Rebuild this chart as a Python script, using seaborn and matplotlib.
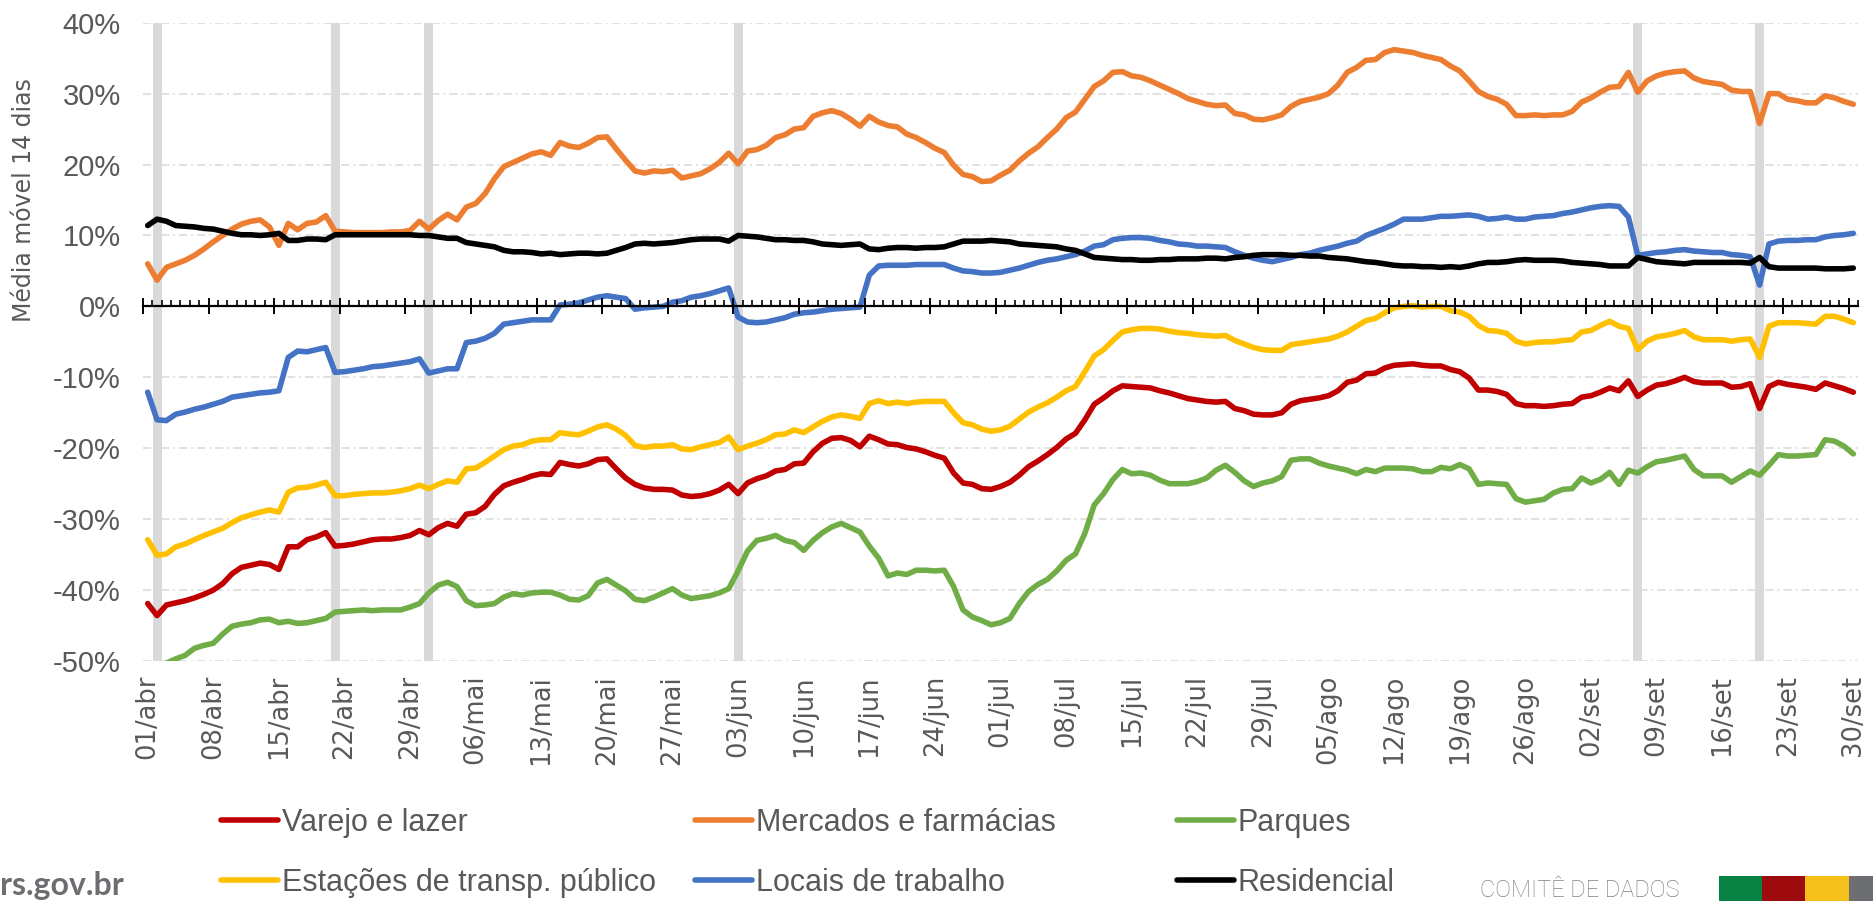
import numpy as np
import pandas as pd
import matplotlib
matplotlib.use('Agg')
import matplotlib.pyplot as plt
import seaborn as sns
from matplotlib.patches import Rectangle

# Média móvel de 14 dias, variação (%) frente à linha de base - 01/abr a 30/set
dias = pd.date_range('2021-04-01', '2021-09-30', freq='D')
feriados = ['2021-04-02', '2021-04-21', '2021-05-01', '2021-06-03', '2021-09-07', '2021-09-20']

varejo = [
    -41.9, -43.6, -42.1, -41.8, -41.5, -41.1, -40.6, -40.0, -39.1, -37.7,
    -36.8, -36.5, -36.2, -36.4, -37.1, -33.9, -33.9, -32.9, -32.5, -31.9,
    -33.8, -33.7, -33.5, -33.2, -32.9, -32.8, -32.8, -32.6, -32.3, -31.6,
    -32.2, -31.2, -30.6, -31.0, -29.3, -29.1, -28.2, -26.5, -25.3, -24.8,
    -24.4, -23.9, -23.6, -23.7, -22.0, -22.3, -22.5, -22.2, -21.6, -21.5,
    -22.9, -24.2, -25.1, -25.6, -25.8, -25.8, -25.9, -26.6, -26.8, -26.7,
    -26.4, -25.9, -25.1, -26.4, -24.9, -24.3, -23.9, -23.2, -23.0, -22.2,
    -22.1, -20.5, -19.3, -18.6, -18.5, -18.9, -19.8, -18.3, -18.8, -19.4,
    -19.5, -19.9, -20.1, -20.5, -21.0, -21.4, -23.5, -24.9, -25.1, -25.7,
    -25.8, -25.4, -24.8, -23.8, -22.6, -21.8, -20.9, -19.9, -18.7, -17.9,
    -16.0, -13.8, -12.9, -11.9, -11.2, -11.3, -11.4, -11.5, -11.9, -12.2,
    -12.6, -13.0, -13.2, -13.4, -13.5, -13.4, -14.4, -14.7, -15.2, -15.3,
    -15.3, -15.0, -13.8, -13.3, -13.1, -12.9, -12.6, -11.9, -10.7, -10.4,
    -9.5, -9.4, -8.7, -8.3, -8.2, -8.1, -8.3, -8.4, -8.4, -8.9,
    -9.2, -10.1, -11.8, -11.8, -12.0, -12.4, -13.7, -14.0, -14.0, -14.1,
    -14.0, -13.8, -13.7, -12.8, -12.6, -12.1, -11.5, -11.9, -10.5, -12.7,
    -11.8, -11.1, -10.9, -10.5, -10.0, -10.6, -10.8, -10.8, -10.8, -11.4,
    -11.3, -10.9, -14.4, -11.3, -10.7, -11.0, -11.2, -11.4, -11.7, -10.8,
    -11.2, -11.6, -12.1,
]

mercados = [
    6.0, 3.7, 5.5, 6.0, 6.5, 7.2, 8.1, 9.1, 10.0, 10.9,
    11.6, 12.0, 12.2, 11.2, 8.6, 11.7, 10.8, 11.7, 11.9, 12.8,
    10.6, 10.5, 10.4, 10.4, 10.4, 10.4, 10.5, 10.5, 10.7, 12.0,
    10.9, 12.1, 13.0, 12.2, 14.0, 14.5, 15.9, 18.0, 19.7, 20.3,
    20.9, 21.5, 21.8, 21.3, 23.1, 22.6, 22.4, 23.0, 23.8, 23.9,
    22.2, 20.6, 19.1, 18.8, 19.1, 19.0, 19.2, 18.1, 18.4, 18.7,
    19.4, 20.3, 21.6, 20.1, 21.9, 22.1, 22.7, 23.8, 24.2, 25.0,
    25.2, 26.8, 27.3, 27.6, 27.2, 26.4, 25.4, 26.8, 26.0, 25.5,
    25.3, 24.3, 23.8, 23.1, 22.3, 21.7, 19.9, 18.6, 18.3, 17.6,
    17.7, 18.5, 19.2, 20.5, 21.6, 22.5, 23.8, 25.0, 26.6, 27.4,
    29.2, 31.0, 31.8, 33.0, 33.1, 32.5, 32.3, 31.8, 31.2, 30.6,
    30.0, 29.3, 28.9, 28.5, 28.3, 28.4, 27.2, 27.0, 26.4, 26.3,
    26.6, 27.0, 28.2, 28.9, 29.2, 29.5, 30.0, 31.2, 33.0, 33.7,
    34.7, 34.8, 35.8, 36.2, 36.0, 35.8, 35.4, 35.1, 34.8, 33.9,
    33.2, 31.8, 30.3, 29.6, 29.2, 28.5, 26.9, 26.9, 27.0, 26.9,
    27.0, 27.0, 27.5, 28.8, 29.4, 30.2, 30.9, 31.0, 33.0, 30.2,
    31.8, 32.5, 32.9, 33.1, 33.2, 32.2, 31.7, 31.5, 31.3, 30.5,
    30.3, 30.3, 25.8, 30.0, 30.0, 29.2, 29.0, 28.7, 28.7, 29.7,
    29.4, 28.9, 28.5,
]

parques = [
    -52.0, -52.5, -50.3, -49.7, -49.2, -48.2, -47.8, -47.5, -46.2, -45.1,
    -44.8, -44.6, -44.2, -44.1, -44.6, -44.4, -44.7, -44.6, -44.3, -44.0,
    -43.1, -43.0, -42.9, -42.8, -42.9, -42.8, -42.8, -42.8, -42.4, -41.9,
    -40.4, -39.3, -38.9, -39.5, -41.5, -42.2, -42.1, -41.9, -41.0, -40.5,
    -40.7, -40.4, -40.3, -40.3, -40.7, -41.3, -41.4, -40.8, -39.0, -38.5,
    -39.3, -40.1, -41.3, -41.5, -41.0, -40.4, -39.8, -40.7, -41.2, -41.0,
    -40.8, -40.4, -39.8, -37.3, -34.5, -33.0, -32.7, -32.3, -33.0, -33.3,
    -34.4, -33.0, -31.9, -31.1, -30.6, -31.2, -31.8, -33.8, -35.5, -38.0,
    -37.6, -37.8, -37.2, -37.2, -37.3, -37.2, -39.5, -42.8, -43.8, -44.3,
    -44.9, -44.6, -44.0, -41.9, -40.2, -39.2, -38.5, -37.3, -35.8, -34.9,
    -32.0, -28.0, -26.4, -24.4, -23.0, -23.6, -23.5, -23.8, -24.5, -25.0,
    -25.0, -25.0, -24.7, -24.2, -23.1, -22.4, -23.4, -24.6, -25.4, -24.9,
    -24.6, -24.0, -21.7, -21.5, -21.5, -22.1, -22.5, -22.8, -23.1, -23.6,
    -23.0, -23.3, -22.8, -22.8, -22.8, -22.9, -23.3, -23.3, -22.7, -22.9,
    -22.3, -22.9, -25.1, -24.9, -25.0, -25.1, -27.1, -27.6, -27.4, -27.2,
    -26.3, -25.8, -25.7, -24.2, -24.9, -24.4, -23.4, -25.1, -23.1, -23.5,
    -22.6, -21.9, -21.7, -21.4, -21.1, -23.0, -23.9, -23.9, -23.9, -24.8,
    -24.0, -23.2, -23.8, -22.4, -20.9, -21.1, -21.1, -21.0, -20.9, -18.8,
    -19.0, -19.7, -20.8,
]

estacoes = [
    -32.9, -35.1, -34.9, -33.9, -33.5, -32.9, -32.3, -31.8, -31.3, -30.5,
    -29.8, -29.4, -29.0, -28.7, -29.0, -26.2, -25.6, -25.5, -25.2, -24.8,
    -26.7, -26.7, -26.5, -26.4, -26.3, -26.3, -26.2, -26.0, -25.7, -25.2,
    -25.7, -25.1, -24.6, -24.8, -22.9, -22.8, -22.0, -21.1, -20.2, -19.7,
    -19.5, -19.0, -18.8, -18.8, -17.8, -18.0, -18.1, -17.6, -17.0, -16.7,
    -17.3, -18.2, -19.6, -19.9, -19.7, -19.7, -19.5, -20.1, -20.2, -19.8,
    -19.5, -19.2, -18.4, -20.2, -19.7, -19.3, -18.8, -18.1, -18.0, -17.4,
    -17.8, -17.0, -16.2, -15.6, -15.3, -15.5, -15.8, -13.7, -13.3, -13.7,
    -13.5, -13.7, -13.5, -13.4, -13.4, -13.4, -15.0, -16.4, -16.7, -17.3,
    -17.6, -17.4, -16.9, -15.9, -14.9, -14.2, -13.6, -12.8, -11.9, -11.3,
    -9.2, -7.0, -6.1, -4.8, -3.6, -3.3, -3.1, -3.1, -3.2, -3.5,
    -3.7, -3.8, -4.0, -4.1, -4.2, -4.1, -4.8, -5.3, -5.8, -6.1,
    -6.2, -6.2, -5.4, -5.2, -5.0, -4.8, -4.6, -4.2, -3.6, -2.8,
    -2.0, -1.7, -0.9, -0.2, 0.0, 0.1, -0.1, 0.0, 0.0, -0.6,
    -0.8, -1.4, -2.7, -3.4, -3.5, -3.8, -4.9, -5.3, -5.1, -5.0,
    -5.0, -4.8, -4.7, -3.6, -3.4, -2.7, -2.1, -2.8, -3.1, -6.1,
    -4.9, -4.3, -4.1, -3.8, -3.4, -4.3, -4.7, -4.7, -4.7, -4.9,
    -4.7, -4.6, -7.2, -2.8, -2.3, -2.3, -2.3, -2.4, -2.5, -1.4,
    -1.4, -1.8, -2.3,
]

trabalho = [
    -12.1, -16.0, -16.1, -15.2, -14.9, -14.5, -14.2, -13.8, -13.4, -12.8,
    -12.6, -12.4, -12.2, -12.1, -11.9, -7.2, -6.3, -6.4, -6.1, -5.8,
    -9.3, -9.2, -9.0, -8.8, -8.5, -8.4, -8.2, -8.0, -7.8, -7.4,
    -9.4, -9.1, -8.8, -8.8, -5.1, -4.9, -4.5, -3.8, -2.5, -2.3,
    -2.1, -1.9, -1.9, -1.9, 0.2, 0.3, 0.5, 0.9, 1.3, 1.5,
    1.3, 1.1, -0.4, -0.2, -0.1, 0.0, 0.6, 0.8, 1.3, 1.5,
    1.8, 2.2, 2.6, -1.5, -2.2, -2.3, -2.2, -1.9, -1.6, -1.1,
    -0.9, -0.8, -0.6, -0.4, -0.3, -0.2, -0.1, 4.4, 5.7, 5.8,
    5.8, 5.8, 5.9, 5.9, 5.9, 5.9, 5.4, 5.0, 4.9, 4.7,
    4.7, 4.8, 5.1, 5.4, 5.8, 6.2, 6.5, 6.7, 7.0, 7.3,
    7.8, 8.5, 8.7, 9.4, 9.6, 9.7, 9.7, 9.6, 9.3, 9.1,
    8.8, 8.7, 8.5, 8.5, 8.4, 8.3, 7.7, 7.2, 6.8, 6.5,
    6.3, 6.6, 6.9, 7.3, 7.5, 7.9, 8.2, 8.5, 8.9, 9.2,
    10.0, 10.5, 11.0, 11.6, 12.3, 12.3, 12.3, 12.5, 12.7, 12.7,
    12.8, 12.9, 12.7, 12.3, 12.4, 12.6, 12.3, 12.3, 12.6, 12.7,
    12.8, 13.1, 13.3, 13.6, 13.9, 14.1, 14.2, 14.1, 12.6, 7.2,
    7.4, 7.6, 7.7, 7.9, 8.0, 7.8, 7.7, 7.6, 7.6, 7.3,
    7.2, 7.0, 3.0, 8.8, 9.2, 9.3, 9.3, 9.4, 9.4, 9.8,
    10.0, 10.1, 10.3,
]

residencial = [
    11.4, 12.3, 12.0, 11.4, 11.3, 11.2, 11.0, 10.9, 10.6, 10.3,
    10.1, 10.1, 10.0, 10.1, 10.3, 9.3, 9.3, 9.5, 9.5, 9.4,
    10.1, 10.1, 10.1, 10.1, 10.1, 10.1, 10.1, 10.1, 10.1, 10.0,
    10.0, 9.8, 9.6, 9.6, 9.0, 8.8, 8.6, 8.4, 7.9, 7.7,
    7.7, 7.6, 7.4, 7.5, 7.3, 7.4, 7.5, 7.5, 7.4, 7.5,
    7.9, 8.3, 8.8, 8.9, 8.8, 8.9, 9.0, 9.2, 9.4, 9.5,
    9.5, 9.5, 9.2, 10.0, 9.9, 9.8, 9.6, 9.4, 9.4, 9.3,
    9.3, 9.1, 8.8, 8.7, 8.6, 8.7, 8.8, 8.1, 8.0, 8.2,
    8.3, 8.3, 8.2, 8.3, 8.3, 8.4, 8.8, 9.2, 9.2, 9.2,
    9.3, 9.2, 9.1, 8.8, 8.7, 8.6, 8.5, 8.4, 8.1, 7.9,
    7.4, 6.9, 6.8, 6.7, 6.6, 6.6, 6.5, 6.5, 6.6, 6.6,
    6.7, 6.7, 6.7, 6.8, 6.8, 6.7, 6.9, 7.0, 7.2, 7.3,
    7.3, 7.3, 7.2, 7.2, 7.1, 7.1, 6.9, 6.8, 6.7, 6.5,
    6.3, 6.2, 6.0, 5.8, 5.7, 5.7, 5.6, 5.6, 5.5, 5.6,
    5.5, 5.7, 6.0, 6.2, 6.2, 6.3, 6.5, 6.6, 6.5, 6.5,
    6.5, 6.4, 6.2, 6.1, 6.0, 5.9, 5.7, 5.7, 5.7, 6.9,
    6.6, 6.3, 6.2, 6.1, 6.0, 6.2, 6.2, 6.2, 6.2, 6.2,
    6.2, 6.1, 6.9, 5.6, 5.4, 5.4, 5.4, 5.4, 5.4, 5.3,
    5.3, 5.3, 5.4,
]

series = {
    'Varejo e lazer': varejo,
    'Estações de transp. público': estacoes,
    'Mercados e farmácias': mercados,
    'Locais de trabalho': trabalho,
    'Parques': parques,
    'Residencial': residencial,
}
cores = {
    'Varejo e lazer': '#c00000',
    'Mercados e farmácias': '#ed7d31',
    'Parques': '#70ad47',
    'Estações de transp. público': '#ffc000',
    'Locais de trabalho': '#4472c4',
    'Residencial': '#000000',
}
ordem_desenho = ['Varejo e lazer', 'Mercados e farmácias', 'Parques',
                 'Estações de transp. público', 'Locais de trabalho', 'Residencial']

for nome, vals in series.items():
    assert len(vals) == len(dias), (nome, len(vals))

meses = {4: 'abr', 5: 'mai', 6: 'jun', 7: 'jul', 8: 'ago', 9: 'set'}
pos = np.arange(len(dias))

df = pd.concat([
    pd.DataFrame({'dia': pos, 'valor': series[n], 'serie': n}) for n in ordem_desenho
], ignore_index=True)

sns.set_theme(style='white')
plt.rcParams['font.family'] = ['DejaVu Sans']
fonte_leg = ['Liberation Sans', 'DejaVu Sans']
cinza = '#595959'

W, H = 1874, 901
fig = plt.figure(figsize=(W / 100, H / 100), dpi=100)
ax = fig.add_axes([143 / W, 1 - 661 / H, 1715 / W, 638.3 / H])

# feriados como colunas cinza
idx_fer = dias.get_indexer(pd.to_datetime(feriados))
ax.bar(idx_fer, 90, bottom=-50, width=0.95, color='#d9d9d9', linewidth=0, zorder=1)

for n in ordem_desenho:
    sns.lineplot(data=df[df['serie'] == n], x='dia', y='valor', color=cores[n],
                 linewidth=4, ax=ax, label=n, sort=False, errorbar=None, zorder=3)
handles, labels = ax.get_legend_handles_labels()
ax.get_legend().remove()
hmap = dict(zip(labels, handles))

ax.set_xlim(-0.5, len(dias) - 0.5)
ax.set_ylim(-50, 40)
ax.set_yticks(np.arange(-50, 41, 10))
ax.set_yticklabels([f'{v}%' for v in range(-50, 41, 10)], fontsize=21, color=cinza,
                   family=fonte_leg)
ax.tick_params(axis='y', length=0, pad=16)

ticks_x = pos[::7]
ax.set_xticks(ticks_x)
ax.set_xticklabels([f'{dias[i].day:02d}/{meses[dias[i].month]}' for i in ticks_x],
                   rotation=90, fontsize=18.5, color=cinza)
ax.tick_params(axis='x', length=0, pad=10)
ax.set_xlabel('')
ax.set_ylabel('')

ax.set_axisbelow(True)
ax.yaxis.grid(True, color='#d9d9d9', linewidth=1.1, linestyle=(0, (5.3, 2.6, 1.3, 2.6)))
ax.xaxis.grid(False)
for s in ax.spines.values():
    s.set_visible(False)

# eixo horizontal em 0% com marcas diárias
ax2 = ax.twiny()
ax2.set_xlim(ax.get_xlim())
for s in ['top', 'left', 'right']:
    ax2.spines[s].set_visible(False)
ax2.spines['bottom'].set_position(('data', 0))
ax2.spines['bottom'].set_color('black')
ax2.spines['bottom'].set_linewidth(1.6)
ax2.xaxis.set_ticks_position('bottom')
ax2.set_xticks(np.arange(-0.5, len(dias), 7))
ax2.set_xticks(np.arange(-0.5, len(dias), 1), minor=True)
ax2.tick_params(which='major', direction='inout', length=12, width=1.4, color='black',
                labelbottom=False, labeltop=False, bottom=True, top=False)
ax2.tick_params(which='minor', direction='in', length=4.5, width=1.2, color='black',
                bottom=True, top=False)
ax2.grid(False)

fig.text(24 / W, 1 - 200 / H, 'Média móvel 14 dias', rotation=90, ha='center', va='center',
         fontsize=17, color=cinza)

# legenda em três colunas
colunas = [
    (221, ['Varejo e lazer', 'Estações de transp. público']),
    (695, ['Mercados e farmácias', 'Locais de trabalho']),
    (1177, ['Parques', 'Residencial']),
]
for x0, nomes in colunas:
    fig.legend([hmap[n] for n in nomes], nomes, loc='center left',
               bbox_to_anchor=(x0 / W, 1 - 853 / H), frameon=False,
               prop={'family': fonte_leg, 'size': 22}, labelcolor=cinza,
               handlelength=1.85, handletextpad=0.13, labelspacing=0.98,
               borderpad=0, borderaxespad=0)

fig.text(0, 1 - 895 / H, 'rs.gov.br', ha='left', va='baseline', fontsize=23,
         fontweight='bold', family=['Lato', 'DejaVu Sans'], color='#6d6e71')
fig.text(1480 / W, 1 - 879 / H, 'COMITÊ DE DADOS', ha='left', va='top', fontsize=17,
         fontweight='light', family=['Roboto', 'DejaVu Sans'], color='#808080')
for x0, x1, c in [(1719, 1762, '#088242'), (1762, 1805, '#9e0b0f'),
                  (1805, 1849, '#f6c01b'), (1849, 1874, '#6d6e71')]:
    fig.add_artist(Rectangle((x0 / W, 0), (x1 - x0) / W, 25 / H, transform=fig.transFigure,
                             facecolor=c, edgecolor='none'))

fig.savefig('out.png', dpi=100)
